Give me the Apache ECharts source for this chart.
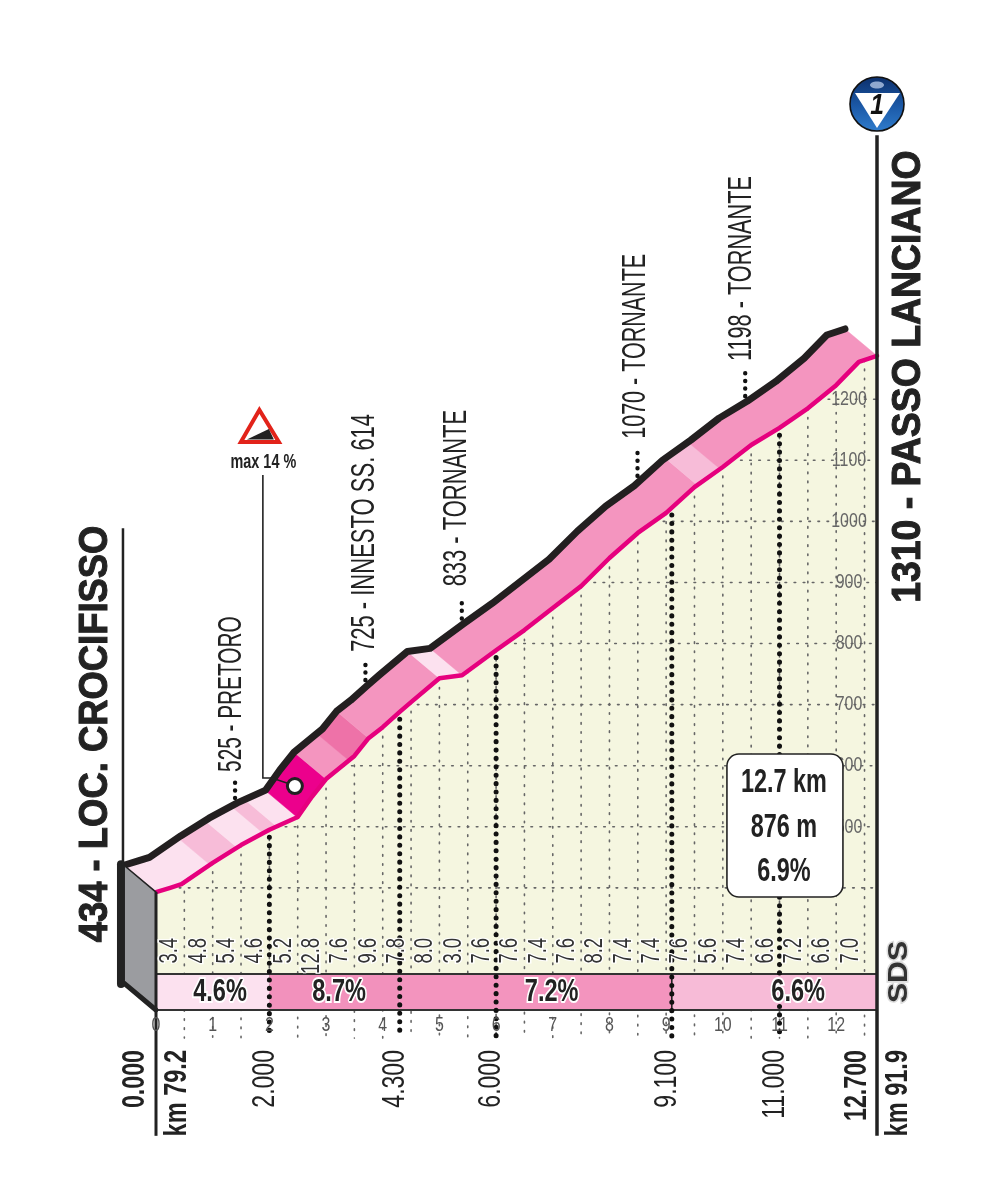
<!DOCTYPE html>
<html><head><meta charset="utf-8">
<style>html,body{margin:0;padding:0;background:#fff}#c{width:992px;height:1200px}</style>
<script src="https://cdn.jsdelivr.net/npm/echarts@6/dist/echarts.min.js"></script>
</head><body><div id="c"></div>
<script>
// ---- data ----
const kmMarks   = [0,0.25,0.45,1,1.5,2,2.5,2.75,3,3.5,3.75,4,4.3,4.5,5,5.4,6,6.5,7,7.5,8,8.5,9,9.5,10,10.5,11,11.5,12,12.4,12.72];
const roadAlt   = [393,400,406,441,470,495,516,549,578,616,645,663,688,704,743,748,789,822,858,894,940,981,1014,1056,1089,1125,1153,1185,1223,1261,1271];
const halfKmGrades = ['3.4','4.8','5.4','4.6','5.2','12.8','7.6','9.6','7.8','8.0','3.0','7.6','7.6','7.4','7.6','8.2','7.4','7.4','7.6','5.6','7.4','6.6','7.2','6.6','7.0'];
const bandBreaks = [0,0.95,1.43,1.89,2.13,2.49,3.0,3.4,3.75,5.0,5.4,9.55,9.95,12.72];
const bandShades = ['#fce1ef','#f7bcd8','#fce1ef','#f7bcd8','#fce1ef','#ec008c','#f495bf','#ee72a8','#f495bf','#fce1ef','#f495bf','#f7bcd8','#f495bf'];
const sectorBreaks = [0,2,4.3,9.1,12.72];
const sectorLabels = ['4.6%','8.7%','7.2%','6.6%'];
const sectorShades = ['#fce1ef','#f291bc','#f394be','#f7bbd7'];
const sectorLabelKm = [1.13,3.23,6.98,11.33];
const waypointKm    = [2,4.3,6,9.1,11];
const waypointNames = ['525 - PRETORO','725 - INNESTO SS. 614','833 - TORNANTE','1070 - TORNANTE','1198 - TORNANTE'];
const distanceLabels= ['2.000','4.300','6.000','9.100','11.000'];
const xTicks = [0,1,2,3,4,5,6,7,8,9,10,11,12];
const altTicks = [500,600,700,800,900,1000,1100,1200];
const altGrid = [400,500,600,700,800,900,1000,1100,1200];
const startName = '434 - LOC. CROCIFISSO';
const endName = '1310 - PASSO LANCIANO';
const summary = ['12.7 km','876 m','6.9%'];
const steepKm = 2.55;

// ---- layout ----
const xMax = 12.72, yMin = 200, yMax = 1310;
const depthKm = 0.565, depthAlt = 44;
const barTop = 259, gridFloor = 154;
const FONT = '"Liberation Sans",sans-serif';

function altAt(k){
  for(let i=1;i<kmMarks.length;i++){ if(k<=kmMarks[i]){
    const t=(k-kmMarks[i-1])/(kmMarks[i]-kmMarks[i-1]);
    return roadAlt[i-1]+t*(roadAlt[i]-roadAlt[i-1]); } }
  return roadAlt[roadAlt.length-1];
}
function kmAt(a){
  for(let i=1;i<roadAlt.length;i++){ if(a<=roadAlt[i]){
    const t=(a-roadAlt[i-1])/(roadAlt[i]-roadAlt[i-1]);
    return kmMarks[i-1]+t*(kmMarks[i]-kmMarks[i-1]); } }
  return xMax;
}
function T(text,x,y,o){
  return {type:'text',x,y,rotation:o.rot?Math.PI/2:0,scaleX:o.sx||1,z2:o.z2||10,
    style:{text,font:(o.bold?'bold ':'')+o.size+'px '+FONT,fill:o.fill||'#222',
      stroke:o.halo||null,lineWidth:o.halo?(o.hw||3):0,align:o.align||'left',verticalAlign:'middle'}};
}
function L(pts,s){return {type:'polyline',shape:{points:pts},style:Object.assign({fill:null,stroke:'#222',lineWidth:2,lineCap:'round',lineJoin:'round'},s)};}
function P(pts,s){return {type:'polygon',shape:{points:pts},style:s};}
function layer(z,fn){return {type:'custom',coordinateSystem:'cartesian2d',z,silent:true,animation:false,clip:false,
  data:[[0,yMin]],renderItem:(p,api)=>({type:'group',children:fn(api)})};}

const option = {
  animation:false, backgroundColor:'#fff',
  grid:{left:156,top:332,width:721,height:678,containLabel:false},
  xAxis:{type:'value',min:0,max:xMax,interval:1,splitLine:{show:false},axisTick:{show:false},axisLine:{show:false},axisLabel:{show:false}},
  yAxis:{type:'value',min:yMin,max:yMax,interval:100,position:'right',splitLine:{show:false},axisTick:{show:false},axisLine:{show:false},axisLabel:{show:false}},
  series:[
    // pale ground under the road
    layer(1,api=>{
      const top=kmMarks.map((k,i)=>api.coord([k,roadAlt[i]]));
      return [P(top.concat([api.coord([xMax,barTop]),api.coord([0,barTop])]),{fill:'#f5f6e0'})];
    }),
    // dotted grid
    layer(2,api=>{
      const s={stroke:'#666',lineWidth:1.6,lineDash:[1.6,7.5],lineCap:'round'};
      const out=[];
      for(let i=1;i<=25;i++){const k=i*0.5; out.push(L([api.coord([k,altAt(k)]),api.coord([k,gridFloor])],s));}
      altGrid.forEach(a=>out.push(L([api.coord([kmAt(a),a]),api.coord([xMax,a])],s)));
      return out;
    }),
    // road band, shaded by gradient
    layer(3,api=>{
      const out=bandShades.map((c,i)=>{
        const a=bandBreaks[i],b=bandBreaks[i+1];
        const ks=[a].concat(kmMarks.filter(k=>k>a&&k<b),[b]);
        const low=ks.map(k=>api.coord([k,altAt(k)]));
        const up=ks.map(k=>api.coord([k-depthKm,altAt(k)+depthAlt])).reverse();
        return P(low.concat(up),{fill:c,stroke:c,lineWidth:0.5});
      });
      out.push(L(kmMarks.map((k,i)=>api.coord([k-depthKm,roadAlt[i]+depthAlt])),{stroke:'#231f20',lineWidth:7}));
      return out;
    }),
    {type:'line',name:'road',z:4,clip:false,symbol:'none',silent:true,animation:false,
      data:kmMarks.map((k,i)=>[k,roadAlt[i]]),
      lineStyle:{color:'#e6007e',width:4.5,cap:'round',join:'round'}},
    // gradient bar, frame and start wall
    layer(5,api=>{
      const out=[];
      sectorShades.forEach((c,i)=>{
        const p0=api.coord([sectorBreaks[i],barTop]),p1=api.coord([sectorBreaks[i+1],yMin]);
        out.push({type:'rect',shape:{x:p0[0],y:p0[1],width:p1[0]-p0[0],height:p1[1]-p0[1]},style:{fill:c}});
      });
      out.push(L([api.coord([0,barTop]),api.coord([xMax,barTop])],{stroke:'#333',lineWidth:2,lineCap:'butt'}));
      out.push(L([api.coord([0,yMin]),api.coord([xMax,yMin])],{stroke:'#333',lineWidth:2,lineCap:'butt'}));
      out.push(L([api.coord([9.1,barTop]),api.coord([9.1,yMin])],{stroke:'#222',lineWidth:1.6,lineCap:'butt'}));
      // start wall
      const st=api.coord([0,roadAlt[0]]), bt=api.coord([0,yMin]);
      const tl=api.coord([-depthKm,roadAlt[0]+depthAlt]), bl=api.coord([-depthKm,yMin+depthAlt]);
      out.push(P([tl,st,bt,bl],{fill:'#9b9ca0'}));
      out.push(L([tl,st],{stroke:'#222',lineWidth:1.6}));
      out.push(L([bl,bt],{stroke:'#222',lineWidth:5}));
      out.push(L([[tl[0]-3,tl[1]-1],[bl[0]-3,bl[1]+1]],{stroke:'#222',lineWidth:8}));
      // vertical rules
      out.push(L([st,api.coord([0,-6])],{stroke:'#222',lineWidth:3,lineCap:'butt'}));
      out.push(L([[tl[0]-1,tl[1]],[tl[0]-1,tl[1]-337]],{stroke:'#222',lineWidth:2.5,lineCap:'butt'}));
      const rb=api.coord([xMax,-6]), rt=api.coord([xMax,1632]);
      out.push(L([rt,rb],{stroke:'#222',lineWidth:3.5,lineCap:'butt'}));
      return out;
    }),
    // heavy dotted lines at the km markers
    layer(6,api=>{
      const s={stroke:'#111',lineWidth:5,lineDash:[0.1,8.3],lineCap:'round'};
      const out=[];
      waypointKm.forEach(k=>{
        out.push(L([api.coord([k,altAt(k)-12]),api.coord([k,gridFloor])],s));
        const p=api.coord([k-depthKm-0.04,altAt(k)+depthAlt+8]);
        out.push(L([p,[p[0],p[1]-18-k*0.6]],Object.assign({},s,{lineWidth:4.4,lineDash:[0.1,7.5]})));
      });
      return out;
    }),
    // texts and badges
    layer(7,api=>{
      const out=[];
      // axis tick labels through the axis scales
      xTicks.forEach(v=>{
        const p=api.coord([v,yMin]);
        out.push(T(String(v),p[0],p[1]+15,{size:21,sx:0.76,align:'center',fill:'#555',z2:4}));
      });
      altTicks.forEach(v=>{
        const p=api.coord([xMax,v]);
        out.push(T(String(v),p[0]-28,p[1],{size:21,sx:0.76,align:'center',fill:'#666',z2:4}));
      });
      halfKmGrades.forEach((g,i)=>{
        const p=api.coord([(i+0.5)*0.5,barTop]);
        out.push(T(g,p[0],p[1]-36,{rot:1,align:'right',size:26,sx:0.71,fill:'#333',halo:'#fff',hw:3}));
      });
      sectorLabels.forEach((t,i)=>{
        const p=api.coord([sectorLabelKm[i],(barTop+yMin)/2]);
        out.push(T(t,p[0],p[1],{bold:1,size:31,sx:0.76,align:'center',fill:'#222',halo:'#fff',hw:4}));
      });
      const lift=[31,33,37,42,40], shift=[5,3,7,4,6], squeeze=[0.63,0.667,0.665,0.652,0.658];
      waypointKm.forEach((k,i)=>{
        const p=api.coord([k-depthKm,altAt(k)+depthAlt]);
        out.push(T(waypointNames[i],p[0]-shift[i],p[1]-lift[i],{rot:1,size:33,sx:squeeze[i],fill:'#222'}));
        const d=api.coord([k,yMin]);
        out.push(T(distanceLabels[i],d[0]-4.5,d[1]+40,{rot:1,align:'right',size:32,sx:0.72,fill:'#222'}));
      });
      const o=api.coord([0,yMin]), e=api.coord([xMax,yMin]);
      out.push(T('0.000',o[0]-21,o[1]+40,{rot:1,align:'right',bold:1,size:32,sx:0.725}));
      out.push(T('km 79.2',o[0]+21,o[1]+40,{rot:1,align:'right',bold:1,size:31,sx:0.76}));
      out.push(T('12.700',e[0]-20,e[1]+40,{rot:1,align:'right',bold:1,size:32,sx:0.725}));
      out.push(T('km 91.9',e[0]+21,e[1]+40,{rot:1,align:'right',bold:1,size:31,sx:0.76}));
      const s0=api.coord([-depthKm,roadAlt[0]+depthAlt]);
      out.push(T(startName,s0[0]-28,s0[1]+77,{rot:1,bold:1,size:40,sx:0.91,halo:'#222',hw:1}));
      const s1=api.coord([xMax,roadAlt[roadAlt.length-1]]);
      out.push(T(endName,s1[0]+32,s1[1]+247,{rot:1,bold:1,size:40,sx:0.935,halo:'#222',hw:1}));
      // SDS mark
      out.push(T('SDS',e[0]+23,e[1]-38,{rot:1,align:'center',bold:1,size:27,sx:1.12,fill:'#333',halo:'#ddd',hw:3}));
      // summary box
      const bx=api.coord([10.99,yMin]);
      out.push({type:'rect',shape:{x:bx[0]-52,y:754,width:116,height:143,r:12},style:{fill:'#fff',stroke:'#222',lineWidth:1.6},z2:8});
      summary.forEach((t,i)=>out.push(T(t,bx[0]+5,783+i*44.5,{bold:1,size:33,sx:0.71,align:'center'})));
      // steepest point call-out
      const m=api.coord([steepKm-0.1,altAt(steepKm)+depthAlt]);
      const mx=m[0], my=m[1];
      const ax=mx-32;
      out.push(L([[ax,475],[ax,778],[ax+9,778],[mx-8,my-3]],{stroke:'#222',lineWidth:1.6,lineCap:'butt',lineJoin:'miter'}));
      out.push({type:'circle',shape:{cx:mx,cy:my,r:7.5},style:{fill:'#fff',stroke:'#222',lineWidth:3},z2:9});
      out.push(P([[ax-3.5,410],[ax-22,442],[ax+16,442]],{fill:'#fff',stroke:'#e2231a',lineWidth:4,lineJoin:'miter'}));
      out.push(P([[ax-16,439.5],[ax+6,429],[ax+11,439.5]],{fill:'#222'}));
      out.push(T('max 14 %',ax+0.5,462,{bold:1,size:20,sx:0.72,align:'center'}));
      // category badge
      const b=[e[0],105];
      out.push({type:'circle',shape:{cx:b[0],cy:b[1]-1,r:27},style:{stroke:'#111',lineWidth:1.6,
        fill:{type:'linear',x:0,y:0,x2:0,y2:1,colorStops:[{offset:0,color:'#0c2f6b'},{offset:0.55,color:'#1c5aa8'},{offset:1,color:'#2f7ccc'}]}}});
      out.push({type:'ellipse',shape:{cx:b[0],cy:b[1]-20,rx:7,ry:3.5},style:{fill:'#8fa8cf'}});
      out.push(P([[b[0]-22,b[1]-12],[b[0]+23,b[1]-12],[b[0],b[1]+23]],{fill:'#fff'}));
      out.push({type:'text',x:b[0],y:b[1]+1,scaleX:0.85,style:{text:'1',font:'italic bold 29px '+FONT,fill:'#111',align:'center',verticalAlign:'middle'},z2:12});
      return out;
    })
  ]
};
echarts.init(document.getElementById('c'),null,{renderer:'canvas'}).setOption(option);
</script></body></html>
